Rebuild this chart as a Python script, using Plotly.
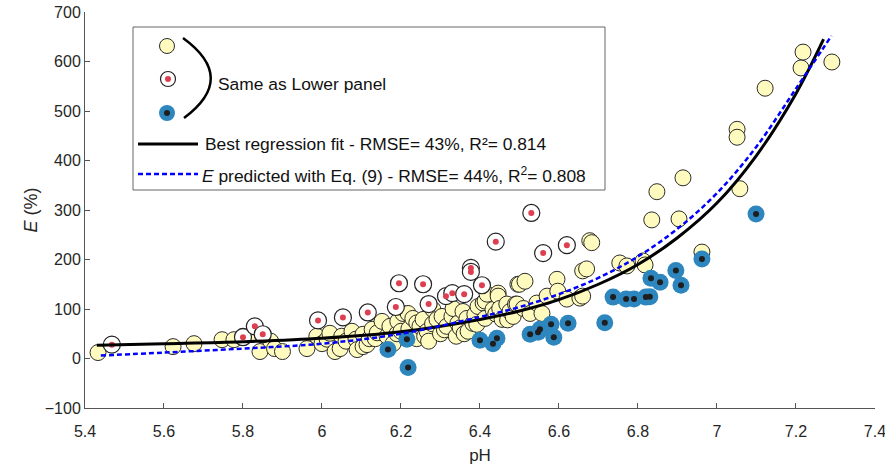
import plotly.graph_objects as go

# ---------------- data ----------------
yellow_ph = [5.433, 5.623, 5.676, 5.747, 5.777, 5.80, 5.823, 5.843, 5.87, 5.88, 5.90, 5.962,
             5.987, 6.0, 6.013, 6.02, 6.033, 6.046, 6.05, 6.061, 6.076, 6.086, 6.089, 6.104, 6.104,
             6.114, 6.12, 6.127, 6.135, 6.14, 6.152, 6.165, 6.172, 6.18, 6.19, 6.192, 6.2, 6.205,
             6.218, 6.22, 6.23, 6.24, 6.24, 6.248, 6.256, 6.26, 6.266, 6.27, 6.28, 6.281, 6.291,
             6.30, 6.304, 6.31, 6.316, 6.329, 6.332, 6.34, 6.344, 6.35, 6.357, 6.36, 6.367, 6.37,
             6.382, 6.387, 6.392, 6.395, 6.408, 6.413, 6.413, 6.418, 6.433, 6.44, 6.446, 6.446,
             6.45, 6.456, 6.468, 6.47, 6.476, 6.484, 6.49, 6.494, 6.496, 6.50, 6.51, 6.514, 6.527,
             6.544, 6.557, 6.57, 6.595, 6.597, 6.62, 6.653, 6.66, 6.66, 6.67, 6.678, 6.683, 6.754,
             6.772, 6.813, 6.818, 6.835, 6.848, 6.904, 6.914, 6.962, 7.051, 7.051, 7.058, 7.122,
             7.213, 7.218, 7.291]
yellow_e = [12, 24, 30, 38, 38, 45, 49, 14, 35, 20, 14, 20,
            45, 30, 39, 51, 14, 20, 45, 35, 55, 39, 18, 49, 24,
            28, 40, 59, 40, 52, 75, 45, 65, 30, 50, 75, 55, 91,
            91, 60, 81, 40, 72, 65, 79, 45, 55, 35, 70, 99, 79,
            50, 85, 58, 65, 85, 101, 45, 71, 62, 95, 50, 81, 55,
            71, 89, 69, 105, 112, 81, 116, 130, 99, 90, 132, 126,
            101, 79, 110, 78, 95, 85, 110, 110, 150, 150, 101, 156, 91,
            112, 91, 126, 160, 136, 120, 122, 126, 177, 181, 238, 234, 193,
            187, 197, 189, 280, 337, 282, 365, 215, 463, 447, 343, 546,
            587, 619, 599]

red_ph = [5.468, 5.80, 5.83, 5.85, 5.99, 6.053, 6.116, 6.187, 6.195, 6.256, 6.27, 6.314,
          6.33, 6.36, 6.377, 6.377, 6.405, 6.44, 6.53, 6.56, 6.62]
red_e = [28, 43, 65, 49, 77, 83, 93, 104, 152, 150, 110, 126,
         132, 130, 183, 175, 148, 236, 294, 213, 229]

blue_ph = [6.167, 6.215, 6.218, 6.40, 6.433, 6.443, 6.527, 6.547, 6.552, 6.58, 6.587, 6.623,
           6.716, 6.737, 6.77, 6.79, 6.82, 6.83, 6.833, 6.856, 6.896, 6.909, 6.962, 7.099]
blue_e = [18, 39, -18, 37, 30, 41, 49, 53, 59, 69, 43, 71,
          72, 124, 120, 120, 124, 125, 162, 154, 178, 148, 201, 292]

fit_ph = [5.43, 5.6, 5.8, 6.0, 6.2, 6.4, 6.5, 6.6, 6.7, 6.8, 6.9, 7.0, 7.1, 7.2, 7.27]
fit_e = [27, 30, 34, 41, 54, 79, 96, 119, 150, 190, 244, 314, 410, 535, 645]

eq9_ph = [5.44, 5.6, 5.8, 6.0, 6.2, 6.4, 6.5, 6.6, 6.7, 6.8, 6.9, 7.0, 7.1, 7.2, 7.29]
eq9_e = [6, 12, 20, 30, 50, 84, 104, 130, 163, 206, 262, 334, 428, 545, 652]

x_ticks = [5.4, 5.6, 5.8, 6.0, 6.2, 6.4, 6.6, 6.8, 7.0, 7.2, 7.4]
x_ticklabels = ["5.4", "5.6", "5.8", "6", "6.2", "6.4", "6.6", "6.8", "7", "7.2", "7.4"]
y_ticks = [-100, 0, 100, 200, 300, 400, 500, 600, 700]

# ---------------- styling ----------------
YELLOW = "#FFFBBE"
RED = "#DE3F50"
BLUE = "#2E86BF"
FONT = "Liberation Sans"

W, H = 885, 474
L, R, T, B = 85, 10, 12, 66
PW, PH = W - L - R, H - T - B


def px(x):
    return (x - L) / PW


def py(y):
    return (H - B - y) / PH


fig = go.Figure()

fig.add_trace(go.Scatter(x=yellow_ph, y=yellow_e, mode="markers",
                         marker=dict(size=16, color=YELLOW, line=dict(color="#2a2a2a", width=1)),
                         showlegend=False, hoverinfo="skip"))
fig.add_trace(go.Scatter(x=red_ph, y=red_e, mode="markers",
                         marker=dict(size=17, color="white", line=dict(color="#222", width=1.2)),
                         showlegend=False, hoverinfo="skip"))
fig.add_trace(go.Scatter(x=red_ph, y=red_e, mode="markers",
                         marker=dict(size=6, color=RED, line=dict(width=0)),
                         showlegend=False, hoverinfo="skip"))
fig.add_trace(go.Scatter(x=blue_ph, y=blue_e, mode="markers",
                         marker=dict(size=17, color=BLUE, line=dict(width=0)),
                         showlegend=False, hoverinfo="skip"))
fig.add_trace(go.Scatter(x=blue_ph, y=blue_e, mode="markers",
                         marker=dict(size=6, color="#1e1e1e", line=dict(width=0)),
                         showlegend=False, hoverinfo="skip"))
fig.add_trace(go.Scatter(x=fit_ph, y=fit_e, mode="lines", line=dict(color="black", width=3, shape="spline"),
                         showlegend=False, hoverinfo="skip"))
fig.add_trace(go.Scatter(x=eq9_ph, y=eq9_e, mode="lines",
                         line=dict(color="#0000FF", width=2.5, dash="5px,3px", shape="spline"),
                         showlegend=False, hoverinfo="skip"))

shapes = []
annotations = []

# legend box
shapes.append(dict(type="rect", xref="paper", yref="paper", x0=px(133), x1=px(605), y0=py(190), y1=py(27),
                   line=dict(color="#666", width=1), fillcolor="white", layer="above"))


def circ(cx, cy, d, fill, lc=None, lw=0):
    return dict(type="circle", xref="paper", yref="paper", xsizemode="pixel", ysizemode="pixel",
                xanchor=px(cx), yanchor=py(cy), x0=-d / 2, x1=d / 2, y0=-d / 2, y1=d / 2,
                fillcolor=fill, line=dict(color=lc or fill, width=lw), layer="above")


shapes.append(circ(167, 46, 15, YELLOW, "#2a2a2a", 1))
shapes.append(circ(168, 79, 15, "white", "#222", 1.2))
shapes.append(circ(168, 79, 6, RED))
shapes.append(circ(167, 113, 16, BLUE))
shapes.append(circ(167, 113, 6, "#1e1e1e"))
shapes.append(dict(type="path", xref="paper", yref="paper",
                   path=f"M {px(183)},{py(38)} Q {px(238)},{py(78)} {px(184)},{py(118)}",
                   line=dict(color="black", width=2.5), layer="above"))
shapes.append(dict(type="line", xref="paper", yref="paper", x0=px(138), x1=px(198), y0=py(144), y1=py(144),
                   line=dict(color="black", width=3), layer="above"))
shapes.append(dict(type="line", xref="paper", yref="paper", x0=px(138), x1=px(198), y0=py(174), y1=py(174),
                   line=dict(color="#0000FF", width=2.5, dash="5px,3px"), layer="above"))

lfont = dict(family=FONT, size=17.4, color="#111")
annotations.append(dict(xref="paper", yref="paper", x=px(216), y=py(84), xanchor="left", yanchor="middle",
                        text="Same as Lower panel", showarrow=False, font=lfont))
annotations.append(dict(xref="paper", yref="paper", x=px(203), y=py(144), xanchor="left", yanchor="middle",
                        text="Best regression fit - RMSE= 43%, R²= 0.814", showarrow=False, font=lfont))
annotations.append(dict(xref="paper", yref="paper", x=px(200), y=py(175), xanchor="left", yanchor="middle",
                        text="<i>E</i> predicted with Eq. (9) - RMSE= 44%, R<sup>2</sup>= 0.808",
                        showarrow=False, font=lfont))

axis_common = dict(showgrid=False, zeroline=False, ticks="inside", ticklen=5, tickwidth=1,
                   tickcolor="#555", linecolor="#555", linewidth=1, showline=True, mirror=False,
                   automargin=False, ticklabeloverflow="allow",
                   tickfont=dict(family=FONT, size=16, color="#262626"))

fig.update_layout(
    width=W, height=H, margin=dict(l=L, r=R, t=T, b=B, autoexpand=False),
    paper_bgcolor="white", plot_bgcolor="white",
    shapes=shapes, annotations=annotations, showlegend=False,
    xaxis=dict(range=[5.4, 7.4002], tickvals=x_ticks, ticktext=x_ticklabels, ticklabelstandoff=9,
               title=dict(text="pH", font=dict(family=FONT, size=17, color="#262626"), standoff=9),
               **axis_common),
    yaxis=dict(range=[-100, 700], tickvals=y_ticks,
               title=dict(text="<i>E</i> (%)", font=dict(family=FONT, size=18, color="#262626"), standoff=2),
               **axis_common),
)

fig.write_html("out.html", config={"displayModeBar": False, "staticPlot": True},
               post_script="document.body.style.margin='0';document.body.style.padding='0';")
